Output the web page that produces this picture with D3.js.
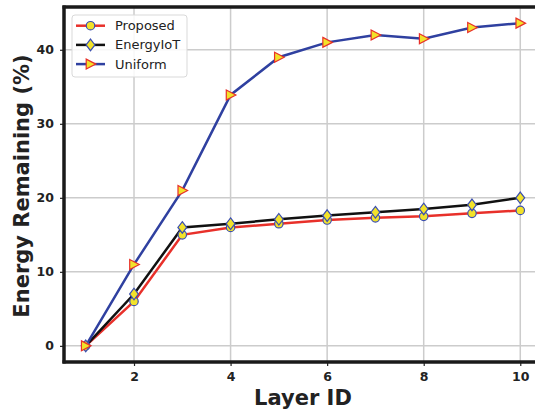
<!DOCTYPE html>
<html>
<head>
<meta charset="utf-8">
<script src="https://cdn.jsdelivr.net/npm/d3@7"></script>
<style>
  body { margin: 0; background: #fff; }
  svg { display: block; font-family: "DejaVu Sans", sans-serif; }
</style>
</head>
<body>
<svg id="chart" width="535" height="412"></svg>
<script>
const layers = [1, 2, 3, 4, 5, 6, 7, 8, 9, 10];
const proposed = [0, 6, 15, 16, 16.5, 17, 17.3, 17.5, 17.9, 18.3];
const energyIoT = [0, 7, 16, 16.5, 17.1, 17.6, 18.05, 18.5, 19.05, 20];
const uniform = [0, 11, 21, 33.9, 39, 41, 42, 41.5, 43, 43.6];
const xTicks = [2, 4, 6, 8, 10];
const yTicks = [0, 10, 20, 30, 40];

const svg = d3.select("#chart");
const margin = { left: 64, top: 7, right: -7, bottom: 50 };
const width = 535 - margin.left - margin.right;
const height = 412 - margin.top - margin.bottom;

// Scales (matplotlib-style 5% padding)
const x = d3.scaleLinear().domain([0.55, 10.45]).range([0, width]);
const y = d3.scaleLinear().domain([-2.18, 45.78]).range([height, 0]);

const g = svg.append("g").attr("transform", `translate(${margin.left},${margin.top})`);

// Grid
g.append("g").selectAll("line").data(xTicks).enter().append("line")
  .attr("x1", d => x(d)).attr("x2", d => x(d))
  .attr("y1", 0).attr("y2", height)
  .attr("stroke", "#cccccc").attr("stroke-width", 1.5);
g.append("g").selectAll("line").data(yTicks).enter().append("line")
  .attr("y1", d => y(d)).attr("y2", d => y(d))
  .attr("x1", 0).attr("x2", width)
  .attr("stroke", "#cccccc").attr("stroke-width", 1.5);

// Axes
const xAxis = g.append("g")
  .attr("transform", `translate(0,${height})`)
  .call(d3.axisBottom(x).tickValues(xTicks).tickSize(4).tickPadding(6).tickFormat(d3.format("d")));
const yAxis = g.append("g")
  .call(d3.axisLeft(y).tickValues(yTicks).tickSize(4).tickPadding(6).tickFormat(d3.format("d")));
[xAxis, yAxis].forEach(a => {
  a.select(".domain").remove();
  a.selectAll(".tick line").attr("stroke", "#222").attr("stroke-width", 1.2);
  a.selectAll(".tick text").attr("fill", "#222")
    .style("font-size", "12.5px").style("font-weight", "bold")
    .style("font-family", "DejaVu Sans");
});

// Lines
const line = d3.line().x((d, i) => x(layers[i])).y(d => y(d));
const series = [
  { name: "Proposed", values: proposed, color: "#e8302a", marker: d3.symbolCircle, size: 56, edge: "#3b4fb0" },
  { name: "EnergyIoT", values: energyIoT, color: "#111111", marker: d3.symbolDiamond, size: 70, edge: "#3b4fb0" },
  { name: "Uniform", values: uniform, color: "#2f40a0", marker: "tri", size: 60, edge: "#e8302a" }
];

function markerPath(s) {
  if (s.marker === "tri") {
    return "M-4.3,-5L5.3,0L-4.3,5Z";
  }
  if (s.marker === d3.symbolDiamond) {
    return "M0,-5.8L4.4,0L0,5.8L-4.4,0Z";
  }
  return d3.symbol().type(s.marker).size(s.size)();
}

series.forEach(s => {
  g.append("path")
    .datum(s.values)
    .attr("fill", "none")
    .attr("stroke", s.color)
    .attr("stroke-width", 2.5)
    .attr("d", line);
});
series.forEach(s => {
  g.append("g").selectAll("path").data(s.values).enter().append("path")
    .attr("transform", (d, i) => `translate(${x(layers[i])},${y(d)})`)
    .attr("d", markerPath(s))
    .attr("fill", "#f2e22a")
    .attr("stroke", s.edge)
    .attr("stroke-width", 1.2);
});

// Spines
g.append("line").attr("x1", 0).attr("x2", 0).attr("y1", -1.5).attr("y2", height + 1.5)
  .attr("stroke", "#1a1a1a").attr("stroke-width", 3.5);
g.append("line").attr("x1", -1.5).attr("x2", width).attr("y1", height).attr("y2", height)
  .attr("stroke", "#1a1a1a").attr("stroke-width", 3.5);
g.append("line").attr("x1", -1.5).attr("x2", width).attr("y1", 0).attr("y2", 0)
  .attr("stroke", "#1a1a1a").attr("stroke-width", 3.5);

// Legend
const legend = svg.append("g").attr("transform", "translate(72,15)");
legend.append("rect")
  .attr("width", 115).attr("height", 62).attr("rx", 3)
  .attr("fill", "#fff").attr("fill-opacity", 0.85)
  .attr("stroke", "#d9d9d9").attr("stroke-width", 1);
series.forEach((s, i) => {
  const row = legend.append("g").attr("transform", `translate(0,${10.7 + i * 19.2})`);
  row.append("line").attr("x1", 4).attr("x2", 33)
    .attr("stroke", s.color).attr("stroke-width", 2.5);
  row.append("path").attr("transform", "translate(18.5,0)")
    .attr("d", markerPath(s))
    .attr("fill", "#f2e22a").attr("stroke", s.edge).attr("stroke-width", 1.2);
  row.append("text").attr("x", 43).attr("y", 4.5)
    .style("font-size", "13px").attr("fill", "#222")
    .text(s.name);
});

// Axis titles
svg.append("text")
  .attr("x", 303).attr("y", 405)
  .attr("text-anchor", "middle")
  .style("font-size", "21px").style("font-weight", "bold").attr("fill", "#222")
  .text("Layer ID");
svg.append("text")
  .attr("transform", "translate(29,186) rotate(-90)")
  .attr("text-anchor", "middle")
  .style("font-size", "21px").style("font-weight", "bold").attr("fill", "#222")
  .text("Energy Remaining (%)");
</script>
</body>
</html>
